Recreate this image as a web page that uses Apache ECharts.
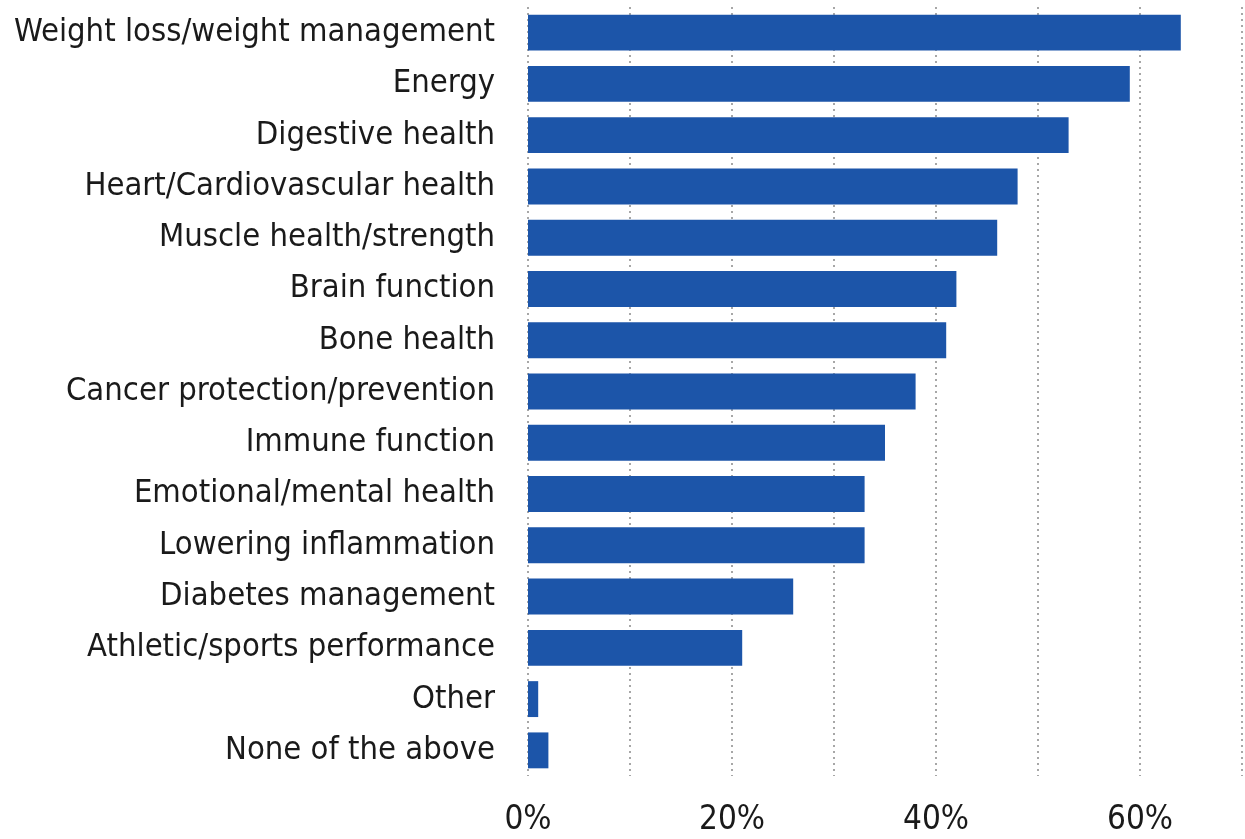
<!DOCTYPE html>
<html>
<head>
<meta charset="utf-8">
<script src="https://cdn.jsdelivr.net/npm/echarts@6/dist/echarts.min.js"></script>
<style>html,body{margin:0;padding:0;background:#fff;}#c{width:1245px;height:839px;}</style>
</head>
<body>
<div id="c"></div>
<script>
const categories = [
  "Weight loss/weight management",
  "Energy",
  "Digestive health",
  "Heart/Cardiovascular health",
  "Muscle health/strength",
  "Brain function",
  "Bone health",
  "Cancer protection/prevention",
  "Immune function",
  "Emotional/mental health",
  "Lowering inflammation",
  "Diabetes management",
  "Athletic/sports performance",
  "Other",
  "None of the above"
];
const values = [64, 59, 53, 48, 46, 42, 41, 38, 35, 33, 33, 26, 21, 1, 2];
const tickLabels = {0: "0%", 20: "20%", 40: "40%", 60: "60%"};

const FONT = '"DejaVu Sans Condensed", "DejaVu Sans", sans-serif';
const chart = echarts.init(document.getElementById('c'), null, {renderer: 'canvas'});
chart.setOption({
  animation: false,
  backgroundColor: '#ffffff',
  grid: {left: 528, right: 0, top: 7, bottom: 63, containLabel: false},
  xAxis: {
    type: 'value', min: 0, max: 70, interval: 10,
    axisLine: {show: false}, axisTick: {show: false},
    splitLine: {show: true, lineStyle: {color: '#8a8a8a', type: [2, 4], width: 1.5}},
    axisLabel: {
      margin: 28, color: '#1a1a1a', fontFamily: FONT, fontSize: 33,
      formatter: v => tickLabels[v] !== undefined ? tickLabels[v] : ''
    }
  },
  yAxis: {
    type: 'category', data: categories, inverse: true,
    axisLine: {show: false}, axisTick: {show: false},
    axisLabel: {margin: 33, color: '#1a1a1a', fontFamily: FONT, fontSize: 32.5}
  },
  series: [{
    type: 'bar', data: values, barCategoryGap: '30%',
    itemStyle: {color: '#1c55a9'}
  }]
});
</script>
</body>
</html>
